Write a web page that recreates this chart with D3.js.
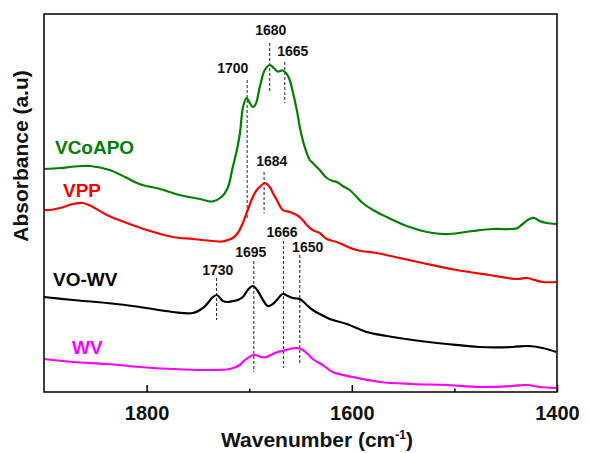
<!DOCTYPE html>
<html>
<head>
<meta charset="utf-8">
<script src="https://cdn.jsdelivr.net/npm/d3@7"></script>
<style>
  body { margin: 0; background: #fff; }
  text { font-family: Arial, "Liberation Sans", sans-serif; font-weight: bold; }
</style>
</head>
<body>
<div id="chart"></div>
<script>
// wavenumber (cm-1), absorbance (a.u., offset stacked)
const vcoapo = [
  [1900, 2.23], [1884, 2.24], [1870, 2.255], [1855, 2.26], [1836, 2.22], [1821, 2.15],
  [1807, 2.08], [1787, 2.03], [1768, 1.97], [1748, 1.93], [1736, 1.905], [1727, 1.95],
  [1721, 2.04], [1716, 2.25], [1712, 2.42], [1709, 2.59], [1706, 2.85], [1702.6, 2.94],
  [1699.4, 2.89], [1696.5, 2.85], [1693.6, 2.88], [1689.7, 3.05], [1684.8, 3.22],
  [1680, 3.27], [1676, 3.24], [1672.2, 3.205], [1667.3, 3.215], [1663.4, 3.18],
  [1660.5, 3.12], [1657.5, 3.0], [1653.6, 2.82], [1650.7, 2.65], [1647.8, 2.52],
  [1645.9, 2.45], [1641, 2.32], [1638.1, 2.29], [1631.3, 2.22], [1624.4, 2.14],
  [1618.6, 2.11], [1614.7, 2.1], [1608.9, 2.06], [1602, 2.02], [1589.4, 1.89],
  [1577.7, 1.81], [1566, 1.75], [1543.6, 1.65], [1521.2, 1.59], [1504.7, 1.58],
  [1482.3, 1.61], [1462.8, 1.63], [1443.3, 1.63], [1438.4, 1.64], [1434.6, 1.67],
  [1426.8, 1.73], [1421.9, 1.74], [1417, 1.71], [1410.2, 1.69], [1400.5, 1.68]
];
const vpp = [
  [1900, 1.82], [1894.2, 1.82], [1884.4, 1.84], [1871.8, 1.88], [1862, 1.89], [1852.3, 1.85],
  [1838.7, 1.77], [1819.2, 1.69], [1799.7, 1.62], [1774.4, 1.55], [1754.9, 1.53],
  [1735.4, 1.51], [1726.7, 1.505], [1720.8, 1.52], [1716, 1.54], [1711.1, 1.59],
  [1706.2, 1.69], [1701.4, 1.82], [1696.5, 1.95], [1692.6, 2.02], [1689.7, 2.05],
  [1684.8, 2.09], [1679.9, 2.05], [1677, 1.99], [1673.1, 1.92], [1667.3, 1.82],
  [1660.5, 1.8], [1653.6, 1.77], [1647.8, 1.72], [1643.9, 1.67], [1638.1, 1.62],
  [1631.3, 1.59], [1624.4, 1.53], [1614.7, 1.5], [1595.2, 1.42], [1575.8, 1.39],
  [1553.4, 1.34], [1531, 1.29], [1497.9, 1.22], [1465.7, 1.17], [1439.4, 1.13],
  [1428.7, 1.14], [1421.9, 1.12], [1414.1, 1.1], [1400.5, 1.1]
];
const vowv = [
  [1900, 0.95], [1871.8, 0.92], [1838.7, 0.89], [1806.5, 0.85], [1774.4, 0.8], [1754.9, 0.79],
  [1745.2, 0.84], [1740.3, 0.89], [1736.4, 0.94], [1731.5, 0.97], [1725.7, 0.91],
  [1720.8, 0.9], [1716, 0.91], [1711.1, 0.92], [1706.2, 0.95], [1701.4, 1.02],
  [1696.5, 1.06], [1691.6, 1.01], [1687.7, 0.94], [1681.9, 0.86], [1677, 0.88],
  [1673.1, 0.92], [1667.3, 0.98], [1662.4, 0.96], [1657.5, 0.94], [1650.7, 0.93],
  [1643.9, 0.87], [1638.1, 0.82], [1629.3, 0.77], [1621.5, 0.73], [1605, 0.68],
  [1585.5, 0.6], [1566, 0.56], [1540.7, 0.52], [1507.6, 0.48], [1475.5, 0.45],
  [1443.3, 0.45], [1428.7, 0.46], [1414.1, 0.44], [1400.5, 0.4]
];
const wv = [
  [1900, 0.33], [1871.8, 0.3], [1838.7, 0.28], [1806.5, 0.25], [1774.4, 0.23], [1741.3, 0.22],
  [1718.9, 0.23], [1713, 0.25], [1709.2, 0.27], [1705.3, 0.31], [1701.4, 0.34],
  [1697.5, 0.365], [1694.5, 0.37], [1690.7, 0.36], [1687.7, 0.35], [1682.9, 0.35],
  [1679.9, 0.365], [1677, 0.38], [1672.2, 0.4], [1667.3, 0.41], [1660.5, 0.43],
  [1652.7, 0.44], [1647.8, 0.42], [1642.9, 0.38], [1638.1, 0.33], [1628.3, 0.27],
  [1618.6, 0.2], [1599.1, 0.15], [1572.8, 0.1], [1540.7, 0.08], [1507.6, 0.07],
  [1475.5, 0.05], [1443.3, 0.06], [1429.7, 0.07], [1417, 0.05], [1400.5, 0.04]
];

const seriesNames = ["VCoAPO", "VPP", "VO-WV", "WV"];
const seriesColors = ["#008000", "#ff0000", "#000000", "#ff00ff"];
const seriesData = [vcoapo, vpp, vowv, wv];
// label anchor (wavenumber, absorbance)
const seriesLabelPos = [[1889.3, 2.38], [1881.5, 1.95], [1891.2, 1.06], [1872.7, 0.38]];

// peak markers: text, line position, line top, line bottom, label x, label y
const peakText = ["1700", "1680", "1665", "1684", "1730", "1695", "1666", "1650"];
const peakAt = [1702, 1680, 1665.3, 1685.5, 1731.8, 1695.5, 1666.6, 1650.7];
const peakTop = [3.12, 3.49, 3.30, 2.20, 1.14, 1.31, 1.51, 1.37];
const peakBottom = [1.72, 3.00, 2.89, 1.79, 0.72, 0.20, 0.24, 0.29];
const peakLabelX = [1716, 1679, 1657.5, 1678, 1730.6, 1698.4, 1668, 1643];
const peakLabelY = [3.19, 3.57, 3.36, 2.26, 1.17, 1.35, 1.55, 1.40];

const majorTicks = [1800, 1600, 1400];
const minorTicks = [1700, 1500];

const W = 590, H = 453;
const margin = { top: 14, right: 33, bottom: 61, left: 44 };
const width = W - margin.left - margin.right,
  height = H - margin.top - margin.bottom;

const svg = d3.select("#chart").append("svg")
  .attr("width", W).attr("height", H);

const g = svg.append("g")
  .attr("transform", `translate(${margin.left},${margin.top})`);

const x = d3.scaleLinear().domain([1900, 1400]).range([0, width]);
const y = d3.scaleLinear().domain([0, 3.78]).range([height, 0]);

const line = d3.line()
  .x((d) => x(d[0]))
  .y((d) => y(d[1]))
  .curve(d3.curveCatmullRom.alpha(0.5));

// dashed peak markers
peakAt.forEach((w, i) => {
  g.append("line")
    .attr("x1", x(w)).attr("x2", x(w))
    .attr("y1", y(peakTop[i])).attr("y2", y(peakBottom[i]))
    .attr("stroke", "#222")
    .attr("stroke-width", 1)
    .attr("stroke-dasharray", "3,2");
  g.append("text")
    .attr("x", x(peakLabelX[i]))
    .attr("y", y(peakLabelY[i]))
    .attr("text-anchor", "middle")
    .style("font-size", "14px")
    .attr("fill", "#111")
    .text(peakText[i]);
});

seriesData.forEach((data, i) => {
  g.append("path")
    .datum(data)
    .attr("fill", "none")
    .attr("stroke", seriesColors[i])
    .attr("stroke-width", 2.2)
    .attr("d", line);
  g.append("text")
    .attr("x", x(seriesLabelPos[i][0]))
    .attr("y", y(seriesLabelPos[i][1]))
    .style("font-size", "19px")
    .attr("fill", seriesColors[i])
    .text(seriesNames[i]);
});

// frame
g.append("rect")
  .attr("width", width).attr("height", height)
  .attr("fill", "none")
  .attr("stroke", "#000")
  .attr("stroke-width", 1.5);

const axisMajor = g.append("g")
  .attr("transform", `translate(0,${height})`)
  .call(d3.axisBottom(x).tickValues(majorTicks).tickSize(-7).tickPadding(14).tickFormat(d3.format("d")));
axisMajor.select(".domain").remove();
axisMajor.selectAll("line").attr("stroke-width", 1.5);
axisMajor.selectAll("text")
  .style("font-size", "20px")
  .style("font-family", "Arial, 'Liberation Sans', sans-serif")
  .style("font-weight", "bold")
  .attr("fill", "#111");

const axisMinor = g.append("g")
  .attr("transform", `translate(0,${height})`)
  .call(d3.axisBottom(x).tickValues(minorTicks).tickSize(-3.5).tickFormat(""));
axisMinor.select(".domain").remove();
axisMinor.selectAll("line").attr("stroke-width", 1.5);

// axis titles
const xt = svg.append("text")
  .attr("x", 317)
  .attr("y", 447)
  .attr("text-anchor", "middle")
  .style("font-size", "21px")
  .attr("fill", "#111");
xt.append("tspan").text("Wavenumber (cm");
xt.append("tspan").attr("dy", -8).style("font-size", "12px").text("-1");
xt.append("tspan").attr("dy", 8).text(")");

svg.append("text")
  .attr("transform", "translate(28,156) rotate(-90)")
  .attr("text-anchor", "middle")
  .style("font-size", "21px")
  .attr("fill", "#111")
  .text("Absorbance (a.u)");
</script>
</body>
</html>
